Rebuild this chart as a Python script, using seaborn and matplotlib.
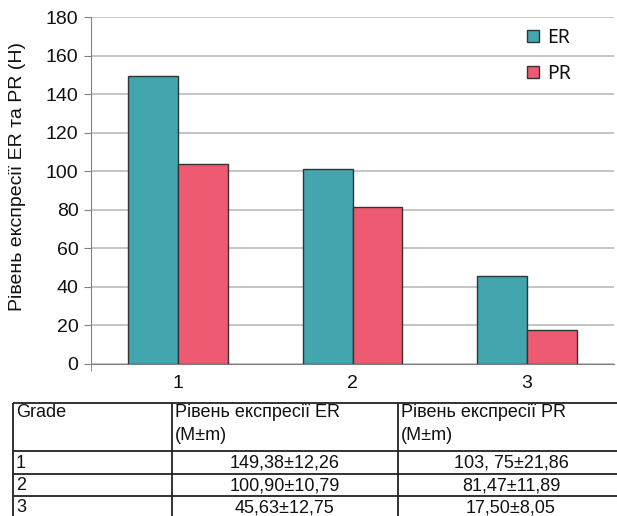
import matplotlib
matplotlib.use("Agg")
import matplotlib.pyplot as plt
import seaborn as sns
import pandas as pd

# дані
grades = ['1', '2', '3']
er_values = [149.38, 100.90, 45.63]
pr_values = [103.75, 81.47, 17.50]
series = ['ER', 'PR']
colors = ['#43A5AE', '#EE5A72']

table_header = ['Grade', 'Рівень експресії ER\n(M±m)', 'Рівень експресії PR\n(M±m)']
er_text = ['149,38±12,26', '100,90±10,79', '45,63±12,75']
pr_text = ['103, 75±21,86', '81,47±11,89', '17,50±8,05']

df = pd.DataFrame({
    'grade': grades * 2,
    'value': er_values + pr_values,
    'marker': ['ER'] * 3 + ['PR'] * 3,
})

sns.set_style('white')
plt.rcParams['font.family'] = ['Liberation Sans', 'DejaVu Sans']
plt.rcParams['text.color'] = '#111111'
plt.rcParams['axes.labelcolor'] = '#111111'
plt.rcParams['xtick.color'] = '#111111'
plt.rcParams['ytick.color'] = '#111111'

W, H = 617, 516
fig = plt.figure(figsize=(W / 100, H / 100), dpi=100)
ax = fig.add_axes([91 / W, (H - 364) / H, (614 - 91) / W, (364 - 17) / H])

sns.barplot(data=df, x='grade', y='value', hue='marker', hue_order=series,
            palette=colors, saturation=1, width=0.57, edgecolor='#333333',
            linewidth=1, ax=ax, zorder=3)

ax.set_ylim(0, 180)
ax.set_xlim(-0.5, 2.5)
ax.set_yticks(range(0, 181, 20))
ax.yaxis.grid(True, color='#bbbbbb', linewidth=1.2, zorder=0)
ax.set_axisbelow(True)
for s in ['top', 'right']:
    ax.spines[s].set_visible(False)
ax.spines['left'].set_color('#808080')
ax.spines['bottom'].set_color('#808080')
ax.tick_params(axis='y', length=5, color='#808080', labelcolor='#111111',
               labelsize=14, left=True, pad=4)
ax.tick_params(axis='x', length=0, labelsize=14, labelcolor='#111111', pad=8)
ax.set_xticks([-0.5], minor=True)
ax.tick_params(axis='x', which='minor', length=5, color='#808080', bottom=True)
ax.set_xlabel('')
ax.set_ylabel('Рівень експресії ER та PR (Н)', fontsize=14)
ax.yaxis.set_label_coords(-0.125, 0.54)

leg = ax.legend(loc='upper left', bbox_to_anchor=(0.80, 1.02), frameon=False,
                prop={'family': 'Noto Sans', 'size': 14}, labelspacing=0.85,
                handlelength=0.6, handleheight=0.6, handletextpad=0.45)

# таблиця
tax = fig.add_axes([13 / W, (H - 518) / H, 611 / W, 115 / H])
tax.set_xlim(0, 611)
tax.set_ylim(115, 0)
tax.axis('off')
row_y = [0, 48, 71, 93, 115]
col_x = [0, 159, 385, 611]
tax.hlines(row_y, 0, 611, color='#222222', linewidth=1.3, clip_on=False)
tax.vlines(col_x, 0, 115, color='#222222', linewidth=1.3, clip_on=False)
for i, txt in enumerate(table_header):
    tax.text(col_x[i] + 3, 1, txt, fontsize=13, va='top', ha='left', linespacing=1.45)
for r in range(3):
    yc = (row_y[r + 1] + row_y[r + 2]) / 2 + 1
    tax.text(3, yc, grades[r], fontsize=13, va='center', ha='left')
    tax.text((col_x[1] + col_x[2]) / 2, yc, er_text[r], fontsize=13, va='center', ha='center')
    tax.text((col_x[2] + col_x[3]) / 2, yc, pr_text[r], fontsize=13, va='center', ha='center')

fig.savefig('out.png', dpi=100)
